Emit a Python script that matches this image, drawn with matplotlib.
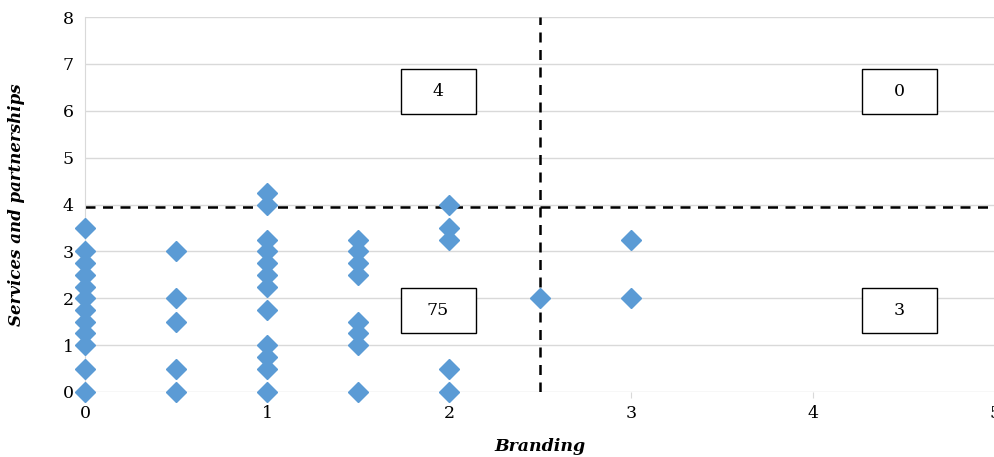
import matplotlib.pyplot as plt
from matplotlib.patches import Rectangle

# scatter data (Branding vs Services and partnerships)
x_vals = [0] * 12 + [0.5] * 5 + [1] * 12 + [1.5] * 8 + [2] * 5 + [2.5] + [3] * 2
y_vals = [0, 0.5, 1, 1.25, 1.5, 1.75, 2, 2.25, 2.5, 2.75, 3, 3.5,
          0, 0.5, 1.5, 2, 3,
          0, 0.5, 0.75, 1, 1.75, 2.25, 2.5, 2.75, 3, 3.25, 4, 4.25,
          0, 1, 1.25, 1.5, 2.5, 2.75, 3, 3.25,
          0, 0.5, 3.25, 3.5, 4,
          2,
          2, 3.25]

x_cut = 2.5
y_cut = 3.95
quad_counts = ['4', '0', '75', '3']
quad_pos = [(1.94, 6.41), (4.475, 6.41), (1.94, 1.73), (4.475, 1.73)]

plt.rcParams['font.family'] = ['DejaVu Serif']

fig = plt.figure(figsize=(9.95, 4.57), dpi=100)
ax = fig.add_axes([85 / 995, 65 / 457, 910 / 995, 375 / 457])

ax.set_xlim(0, 5)
ax.set_ylim(0, 8)
ax.set_yticks(range(0, 9))
ax.set_xticks(range(0, 6))
ax.grid(axis='y', color='#d9d9d9', linewidth=1)
ax.set_axisbelow(True)
for side in ['top', 'right', 'bottom']:
    ax.spines[side].set_visible(False)
ax.spines['left'].set_color('#d9d9d9')
ax.tick_params(axis='y', length=0, labelsize=12.5, pad=8)
ax.tick_params(axis='x', length=4, color='#d9d9d9', labelsize=12.5, pad=5)

ax.plot(x_vals, y_vals, linestyle='none', marker='D', markersize=10,
        color='#5b9bd5', clip_on=False, zorder=3)

ax.axhline(y_cut, color='black', linestyle=(0, (4, 3)), linewidth=1.8, zorder=2)
ax.plot([x_cut, x_cut], [0, 8], color='black', linestyle=(0, (4, 3)), linewidth=1.8, zorder=2)

# fixed-size label boxes (about 75 x 45 px)
box_w = 0.412
box_h = 0.96
for label, (px, py) in zip(quad_counts, quad_pos):
    ax.add_patch(Rectangle((px - box_w / 2, py - box_h / 2), box_w, box_h,
                           facecolor='white', edgecolor='black', linewidth=1, zorder=4))
    ax.text(px, py, label, ha='center', va='center', fontsize=12.5, zorder=5)

ax.set_xlabel('Branding', fontsize=12.5, fontstyle='italic', fontweight='bold', labelpad=12)
ax.set_ylabel('Services and partnerships', fontsize=12, fontstyle='italic',
              fontweight='bold', labelpad=27)

fig.savefig('out.png', dpi=100)
